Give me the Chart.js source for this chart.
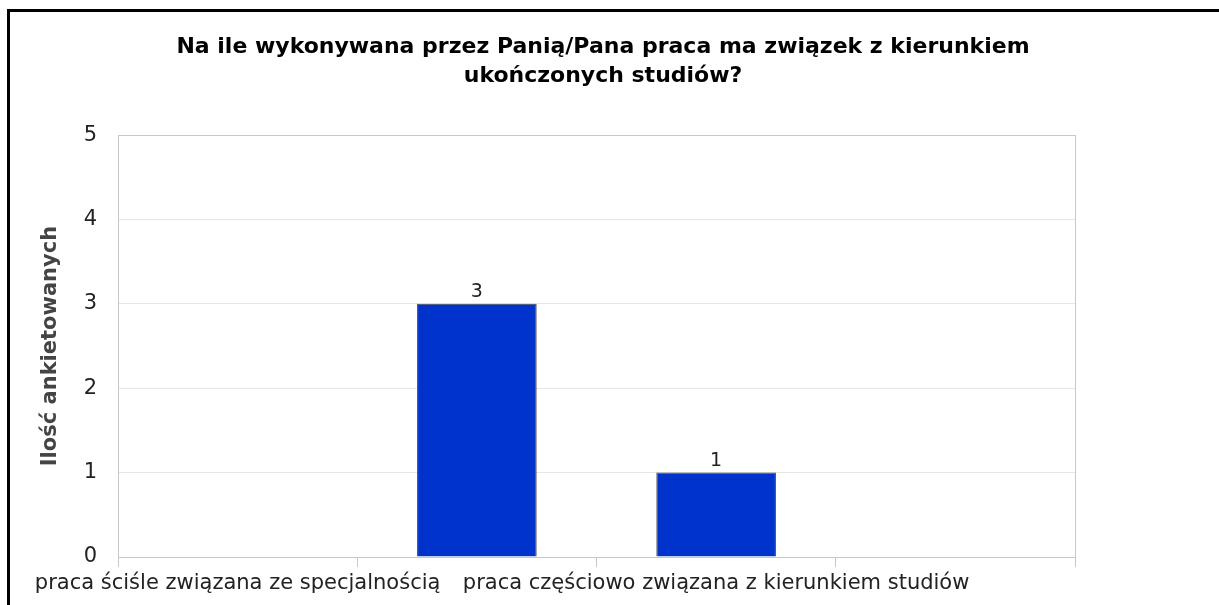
<!DOCTYPE html>
<html>
<head>
<meta charset="utf-8">
<script src="https://cdn.jsdelivr.net/npm/chart.js@4"></script>
<style>
    body { margin: 0; background: #fff; overflow: hidden; }
    #frame {
        position: absolute; left: 7px; top: 9px;
        width: 1400px; height: 800px;
        border: 3px solid #000;
    }
    #wrap {
        position: absolute; left: 0; top: 0;
        width: 1219px; height: 660px;
    }
</style>
</head>
<body>
<div id="frame"></div>
<div id="wrap"><canvas id="workChart"></canvas></div>

<script>

const categories = [
    'praca ściśle związana ze specjalnością',
    'praca związana z kierunkiem studiów',
    'praca częściowo związana z kierunkiem studiów',
    'praca niezwiązana z kierunkiem studiów'
];

const counts = [0, 3, 1, 0];

const yMax = 5;

const chartTitle = [
    'Na ile wykonywana przez Panią/Pana praca ma związek z kierunkiem',
    'ukończonych studiów?'
];

const yTitle = 'Ilość ankietowanych';

// labels go on two rows, every second one drops to the lower row
const xLabels = categories.map((c, i) => i % 2 ? ['', c] : c);

const valueLabels = {
    id: 'valueLabels',
    afterDatasetsDraw(chart) {
        const ctx = chart.ctx;
        const meta = chart.getDatasetMeta(0);
        ctx.save();
        ctx.font = '19px "DejaVu Sans"';
        ctx.fillStyle = '#222';
        ctx.textAlign = 'center';
        ctx.textBaseline = 'bottom';
        meta.data.forEach((bar, i) => {
            if (counts[i] > 0) {
                ctx.fillText(counts[i], bar.x, bar.y - 2);
            }
        });
        ctx.restore();
    }
};

function createWorkChart(){

    const ctx = document.getElementById('workChart');

    new Chart(ctx, {

        type: 'bar',

        data: {
            labels: xLabels,
            datasets: [{
                label: yTitle,
                data: counts,
                backgroundColor: '#0033cc',
                borderColor: '#444',
                borderWidth: 1,
                categoryPercentage: 1,
                barPercentage: 0.5
            }]
        },

        options: {
            responsive: true,
            maintainAspectRatio: false,
            animation: false,
            layout: { padding: { left: 38, right: 51, top: 0, bottom: 0 } },
            plugins: {
                legend: { display: false },
                tooltip: { enabled: false },
                title: {
                    display: true,
                    text: chartTitle,
                    color: '#000',
                    font: { family: 'DejaVu Sans', size: 22, weight: 'bold', lineHeight: 1.32 },
                    padding: { top: 33, bottom: 44 }
                }
            },
            scales: {
                x: {
                    offset: true,
                    grid: {
                        offset: true,
                        drawOnChartArea: false,
                        drawTicks: true,
                        tickLength: 10,
                        color: '#c8c8c8'
                    },
                    border: { color: '#c8c8c8' },
                    ticks: {
                        autoSkip: false,
                        maxRotation: 0,
                        minRotation: 0,
                        padding: 0,
                        color: '#222',
                        font: { family: 'DejaVu Sans', size: 21, lineHeight: 1.6 }
                    },
                    afterFit: (s) => { s.height = 103; }
                },
                y: {
                    min: 0,
                    max: yMax,
                    ticks: {
                        stepSize: 1,
                        padding: 21,
                        color: '#222',
                        font: { family: 'DejaVu Sans', size: 21 }
                    },
                    grid: {
                        drawTicks: false,
                        color: (c) => c.tick && c.tick.value === yMax ? '#c8c8c8' : '#e6e6e6'
                    },
                    border: { color: '#c8c8c8' },
                    title: {
                        display: true,
                        text: yTitle,
                        color: '#444',
                        font: { family: 'DejaVu Sans', size: 21, weight: 'bold' },
                        padding: { top: 0, bottom: 0 }
                    },
                    afterFit: (s) => { s.width = 80; }
                },
                y2: {
                    type: 'linear',
                    position: 'right',
                    min: 0,
                    max: yMax,
                    ticks: { display: false },
                    grid: { drawOnChartArea: false, drawTicks: false },
                    border: { color: '#c8c8c8' },
                    afterFit: (s) => { s.width = 93; }
                }
            }
        },

        plugins: [valueLabels]

    });

}

createWorkChart();

</script>
</body>
</html>
